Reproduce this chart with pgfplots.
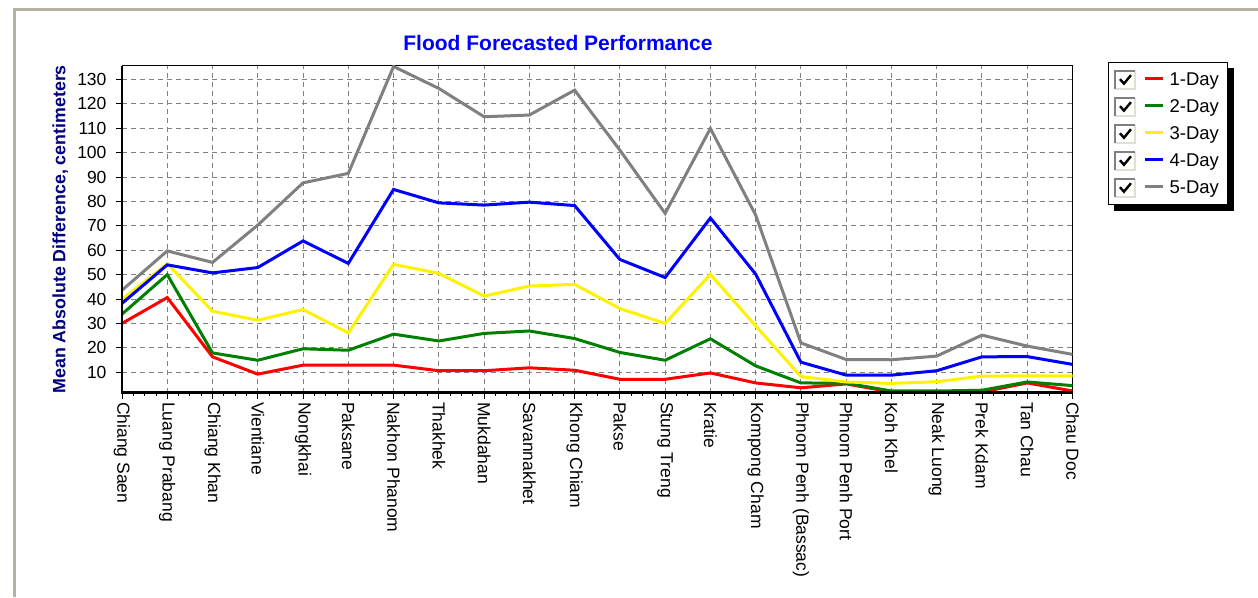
\documentclass[border=0pt]{standalone}
\usepackage{fontspec}
\setmainfont{Liberation Sans}
\usepackage{pgfplots}
\usepackage{pgfplotstable}
\pgfplotsset{compat=1.18}
\usetikzlibrary{backgrounds}

\definecolor{framegray}{RGB}{180,178,165}
\definecolor{gridgray}{RGB}{128,128,128}
\definecolor{dgreen}{RGB}{0,128,0}
\definecolor{navyblue}{RGB}{0,0,128}
\definecolor{boxlight}{RGB}{225,222,212}

% mean absolute difference (cm) by station, 1- to 5-day forecasts
\pgfplotstableread{
x  d1    d2    d3    d4    d5
0  30.0  33.8  39.8  38.2  43.6
1  40.6  50.0  54.5  54.0  59.7
2  16.3  17.9  35.0  50.7  55.0
3   9.2  14.9  31.3  52.9  70.3
4  12.9  19.6  35.7  63.8  87.6
5  12.9  19.0  26.1  54.6  91.5
6  12.9  25.6  54.2  84.9  135.3
7  10.6  22.8  50.5  79.4  126.3
8  10.6  25.9  41.2  78.5  114.7
9  11.8  26.9  45.3  79.7  115.4
10 10.8  23.8  46.0  78.3  125.6
11  7.1  18.1  36.1  56.2  101.0
12  7.1  14.9  30.0  48.8  75.1
13  9.7  23.7  50.1  73.2  109.9
14  5.6  12.6  29.0  50.2  74.4
15  3.6   5.6   8.2  14.1  22.0
16  5.2   5.5   6.0   8.8  15.2
17  1.9   2.3   5.4   8.8  15.1
18  1.9   2.3   6.1  10.6  16.6
19  1.9   2.6   8.4  16.3  25.2
20  5.6   6.0   8.5  16.4  20.7
21  2.3   4.5   8.5  13.2  17.3
}\floodtable

\begin{document}
\begin{tikzpicture}
\useasboundingbox (0,0) rectangle (1258pt,597pt);
\draw[framegray, line width=2.5pt] (14.5pt,0pt) -- (14.5pt,587.5pt) -- (1258pt,587.5pt);
\begin{axis}[
    name=ax,
    at={(122pt,204.3pt)}, anchor=south west,
    scale only axis,
    width=950.5pt, height=326.7pt,
    xmin=0, xmax=21, ymin=1.6, ymax=135.5,
    xtick={0,...,21},
    xticklabels={Chiang Saen, Luang Prabang, Chiang Khan, Vientiane, Nongkhai,
        Paksane, Nakhon Phanom, Thakhek, Mukdahan, Savannakhet, Khong Chiam,
        Pakse, Stung Treng, Kratie, Kompong Cham, Phnom Penh (Bassac),
        Phnom Penh Port, Koh Khel, Neak Luong, Prek Kdam, Tan Chau, Chau Doc},
    ytick={10,20,...,130},
    minor x tick num=3,
    xtick pos=left, ytick pos=left,
    tick align=outside,
    major tick length=6pt, minor tick length=3pt,
    tick style={black, line width=0.8pt},
    grid=major,
    grid style={gridgray, line width=1pt, dash pattern=on 5pt off 4pt},
    axis line style={black, line width=1pt},
    /pgf/number format/assume math mode=true,
    xticklabel style={rotate=-90, anchor=west, font=\fontsize{17.5}{20}\selectfont},
    yticklabel style={xshift=-6pt, font=\fontsize{17.5}{20}\selectfont},
    title={Flood Forecasted Performance},
    title style={at={(axis description cs:0.4587,1.052)}, anchor=center,
        font=\fontsize{21}{25}\selectfont\bfseries, text=blue},
    ylabel={Mean Absolute Difference, centimeters},
    ylabel style={at={(axis description cs:-0.065,0.5)}, anchor=center,
        font=\fontsize{17.8}{21}\selectfont\bfseries, text=navyblue},
    legend style={name=leg, at={(axis description cs:1.0373,1.0113)}, anchor=north west,
        draw=black, line width=1pt, fill=white,
        font=\fontsize{18.5}{21}\selectfont,
        nodes={inner sep=3pt}, row sep=6.7pt, inner xsep=6pt, inner ysep=6.7pt},
    legend cell align=left,
    legend image code/.code={
        \path[fill=white, draw=none] (-30pt,-9pt) rectangle (-10pt,9pt);
        \path[draw=boxlight, fill=none, line width=2pt] (-30pt,-9pt) -- (-10pt,-9pt) -- (-10pt,9pt);
        \path[draw=gridgray, fill=none, line width=2pt] (-30pt,-9pt) -- (-30pt,9pt) -- (-10pt,9pt);
        \path[draw=black, fill=none, line width=2.4pt] (-25.5pt,0.5pt) -- (-21.5pt,-4pt) -- (-14.5pt,4.5pt);
        \draw[#1] (0pt,1pt) -- (18pt,1pt);
        \path[draw=none, fill=none] (21pt,0pt) circle (0.1pt);
    },
    every axis plot/.append style={line width=3pt},
]
\addplot[red]       table[x=x, y=d1] {\floodtable};
\addplot[dgreen]    table[x=x, y=d2] {\floodtable};
\addplot[yellow]    table[x=x, y=d3] {\floodtable};
\addplot[blue]      table[x=x, y=d4] {\floodtable};
\addplot[gridgray]  table[x=x, y=d5] {\floodtable};
\legend{1-Day, 2-Day, 3-Day, 4-Day, 5-Day}
\end{axis}
\draw[black, line width=2.7pt] (ax.north west) -- (ax.south west) -- (ax.south east);
\begin{pgfonlayer}{background}
\fill[black] ([xshift=6pt,yshift=-6pt]leg.south west) rectangle ([xshift=6pt,yshift=-6pt]leg.north east);
\end{pgfonlayer}
\end{tikzpicture}
\end{document}
